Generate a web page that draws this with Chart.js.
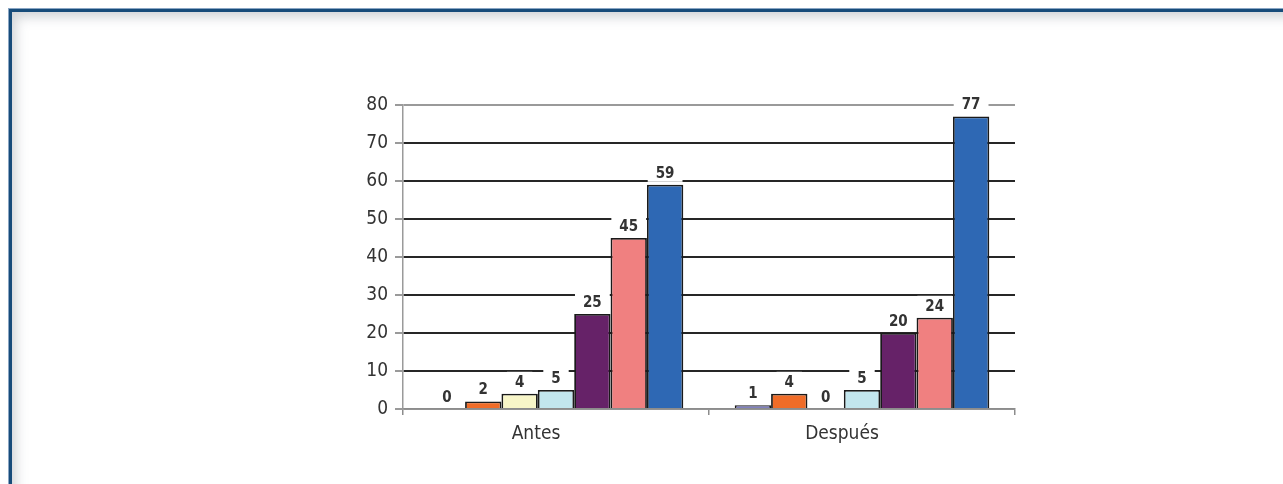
<!DOCTYPE html>
<html>
<head>
<meta charset="utf-8">
<script src="https://cdn.jsdelivr.net/npm/chart.js@4"></script>
<style>
  html, body { margin: 0; padding: 0; background: #fff; }
  #wrap { position: relative; width: 1283px; height: 484px; overflow: hidden; }
  #frame {
    position: absolute; left: 8px; top: 8px; width: 1400px; height: 600px;
    border-left: 1px solid #8aa6c4; border-top: 1px solid #8aa6c4;
  }
  #frame > div {
    position: absolute; left: 0; top: 0; right: 0; bottom: 0;
    border-left: 3px solid #174c7a; border-top: 3px solid #174c7a;
    box-shadow: inset 7px 8px 12px -3px rgba(120, 128, 138, 0.35);
  }
  #myChart { position: absolute; left: 0; top: 0; }
</style>
</head>
<body>
<div id="wrap">
  <div id="frame"><div></div></div>
  <canvas id="myChart" width="1283" height="484"></canvas>
</div>
<script>
const categories = ['Antes', 'Después'];
const serie1 = [0, 1];
const serie2 = [2, 4];
const serie3 = [4, 0];
const serie4 = [5, 5];
const serie5 = [25, 20];
const serie6 = [45, 24];
const serie7 = [59, 77];
const yTicks = [0, 10, 20, 30, 40, 50, 60, 70, 80];

const colors = ['#8080c0', '#f06c28', '#f8f6c8', '#c2e6ee', '#662268', '#f08080', '#2e68b4'];
const series = [serie1, serie2, serie3, serie4, serie5, serie6, serie7];

const FONT = '"DejaVu Sans Condensed", "DejaVu Sans", sans-serif';

// value labels on a white box above each bar
const valueLabels = {
  id: 'valueLabels',
  afterDatasetsDraw(chart) {
    const c = chart.ctx;
    c.save();
    c.font = 'bold 15px ' + FONT;
    c.textAlign = 'center';
    c.textBaseline = 'alphabetic';
    chart.data.datasets.forEach((ds, i) => {
      const meta = chart.getDatasetMeta(i);
      meta.data.forEach((bar, j) => {
        const txt = String(ds.data[j]);
        const w = c.measureText(txt).width + 16;
        const base = bar.y - 7;
        c.fillStyle = '#fff';
        c.fillRect(bar.x - w / 2, base - 15, w, 19);
        c.fillStyle = '#333';
        c.fillText(txt, bar.x, base);
      });
    });
    c.restore();
  }
};

let ctx = document.getElementById('myChart').getContext('2d');
let chart = new Chart(ctx, {
  type: 'bar',
  data: {
    labels: categories,
    datasets: series.map((d, i) => ({
      label: 'Serie ' + (i + 1),
      data: d,
      backgroundColor: colors[i],
      borderColor: '#1a1a1a',
      borderWidth: c => (c.raw === 0 ? 0 : 1.8),
      categoryPercentage: 0.832,
      barPercentage: 1
    }))
  },
  plugins: [valueLabels],
  options: {
    responsive: false,
    animation: false,
    layout: { padding: { left: 343, right: 268, top: 105, bottom: 35 } },
    plugins: { legend: { display: false }, tooltip: { enabled: false } },
    scales: {
      x: {
        afterFit: s => { s.height = 40; },
        border: { color: '#8c8c8c', width: 1.5 },
        grid: {
          offset: true,
          drawOnChartArea: true,
          color: c => (c.index === categories.length ? '#9a9a9a' : 'rgba(0,0,0,0)'),
          tickColor: '#8c8c8c',
          tickLength: 6,
          lineWidth: 1.5
        },
        ticks: {
          color: '#333',
          font: { family: FONT, size: 19 },
          padding: 8,
          labelOffset: -20
        }
      },
      y: {
        min: 0,
        max: 80,
        afterFit: s => { s.width = 60; },
        afterBuildTicks: s => { s.ticks = yTicks.map(v => ({ value: v })); },
        border: { color: '#9a9a9a', width: 1.5 },
        grid: {
          color: c => (c.tick && (c.tick.value === 80 || c.tick.value === 0) ? '#9a9a9a' : '#262626'),
          lineWidth: 2,
          tickColor: '#9a9a9a',
          tickLength: 8
        },
        ticks: {
          color: '#333',
          font: { family: FONT, size: 19 },
          padding: 7
        }
      }
    }
  }
});
</script>
</body>
</html>
